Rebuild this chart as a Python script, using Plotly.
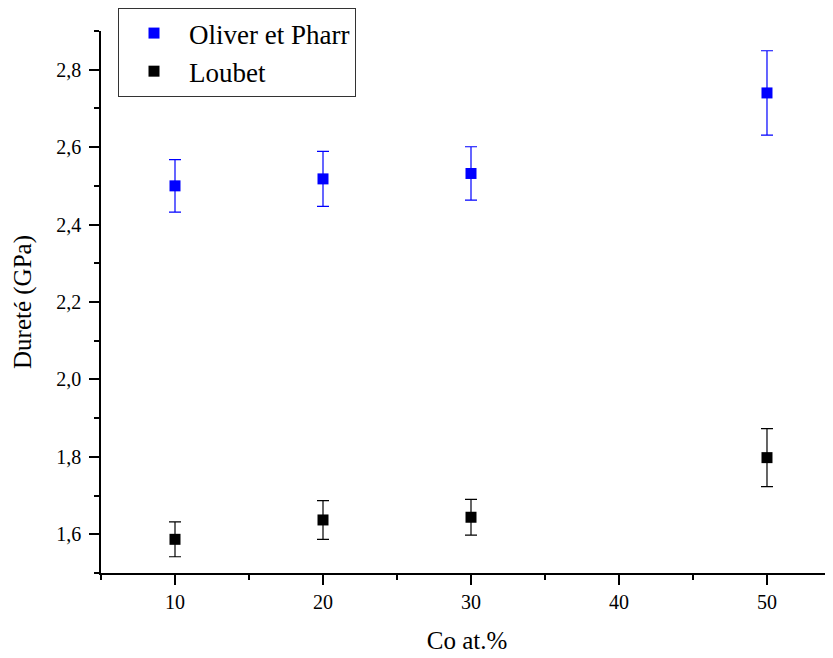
import plotly.graph_objects as go

co = [10, 20, 30, 50]
oliver_pharr = [2.500, 2.518, 2.532, 2.740]
oliver_pharr_err = [0.068, 0.071, 0.069, 0.109]
loubet = [1.587, 1.637, 1.644, 1.798]
loubet_err = [0.045, 0.050, 0.046, 0.075]

FONT = "Liberation Serif"

# page body has an 8px margin: figure sits at (8, 8) in the window
W, H = 825, 650
L, T = 93, 23
PH = 542.5
B = H - T - PH

fig = go.Figure()
fig.add_trace(go.Scatter(
    x=co, y=oliver_pharr, mode="markers", name="Oliver et Pharr",
    marker=dict(symbol="square", size=11, color="#0000ff"),
    error_y=dict(type="data", array=oliver_pharr_err, visible=True,
                 color="#0000ff", thickness=1.2, width=6),
))
fig.add_trace(go.Scatter(
    x=co, y=loubet, mode="markers", name="Loubet",
    marker=dict(symbol="square", size=11, color="#000000"),
    error_y=dict(type="data", array=loubet_err, visible=True,
                 color="#000000", thickness=1.2, width=6),
))

fig.update_layout(
    width=W, height=H,
    margin=dict(l=L, r=0, t=T, b=B, pad=0),
    paper_bgcolor="white", plot_bgcolor="white",
    separators=", ",
    font=dict(family=FONT, color="black", size=20),
    showlegend=True,
    legend=dict(
        x=(118 - 101) / 732, y=1 + (31 - 8) / PH,
        xanchor="left", yanchor="top",
        bgcolor="white", bordercolor="#333333", borderwidth=1,
        font=dict(family=FONT, size=27, color="black"),
        itemwidth=60, tracegroupgap=0,
    ),
    xaxis=dict(
        range=[5, 54.46], showgrid=False, zeroline=False,
        showline=True, linecolor="black", linewidth=1.5,
        ticks="outside", ticklen=10, tickwidth=1.5, tickcolor="black",
        tickmode="array", tickvals=[10, 20, 30, 40, 50],
        tickfont=dict(family=FONT, size=20),
        minor=dict(tickmode="array", tickvals=[5, 15, 25, 35, 45],
                   ticks="outside", ticklen=5, tickwidth=1.5, tickcolor="black"),
        title=dict(text="Co at.%", font=dict(family=FONT, size=25), standoff=20),
    ),
    yaxis=dict(
        range=[1.5, 2.9], showgrid=False, zeroline=False,
        showline=True, linecolor="black", linewidth=1.5,
        ticks="outside", ticklen=10, tickwidth=1.5, tickcolor="black",
        tickmode="array", tickvals=[1.6, 1.8, 2.0, 2.2, 2.4, 2.6, 2.8],
        tickformat=".1f", ticklabelstandoff=4,
        tickfont=dict(family=FONT, size=20),
        minor=dict(tickmode="array", tickvals=[1.5, 1.7, 1.9, 2.1, 2.3, 2.5, 2.7, 2.9],
                   ticks="outside", ticklen=5, tickwidth=1.5, tickcolor="black"),
        title=dict(text="Dureté (GPa)", font=dict(family=FONT, size=25), standoff=18),
    ),
    shapes=[
        # small axis-line overhangs at the origin corner (Origin style)
        dict(type="line", xref="paper", yref="paper", xsizemode="pixel",
             xanchor=0, x0=-5, x1=0, y0=0, y1=0,
             line=dict(color="black", width=1.5)),
        dict(type="line", xref="paper", yref="paper", ysizemode="pixel",
             yanchor=0, y0=-3, y1=0, x0=0, x1=0,
             line=dict(color="black", width=1.5)),
    ],
)

fig.write_html("out.html")
